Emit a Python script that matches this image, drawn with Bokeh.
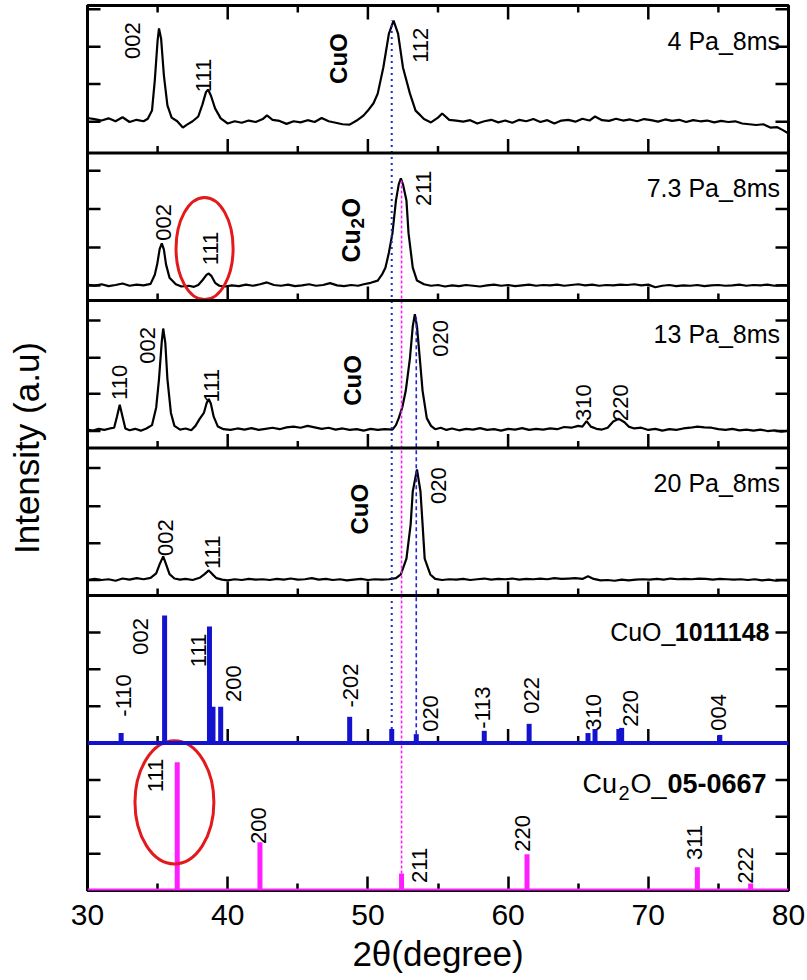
import math
from bokeh.plotting import figure
from bokeh.models import FixedTicker, Range1d, Span
from bokeh.core.properties import value
from bokeh.embed import file_html
from bokeh.resources import INLINE

FONT = "Liberation Sans"

# ------------------------------------------------------------------ data
# measured XRD traces (2theta in degree, intensity in a.u. within each panel)
x_4pa = [30.0, 30.5, 31.0, 31.5, 32.0, 32.5, 33.0, 33.5, 34.0, 34.3, 34.6, 34.8, 35.0, 35.1, 35.25,
         35.45, 35.7, 36.0, 36.4, 36.8, 37.1, 37.5, 37.9, 38.2, 38.45, 38.6, 38.8, 39.1, 39.5, 40.0,
         40.5, 41.0, 41.5, 42.0, 42.5, 42.8, 43.2, 43.7, 44.2, 44.7, 45.2, 45.7, 46.2, 46.7, 47.2,
         47.7, 48.2, 48.7, 49.2, 49.7, 50.0, 50.4, 50.7, 51.1, 51.5, 51.83, 52.15, 52.5, 53.0, 53.4,
         53.75, 54.0, 54.5, 55.0, 55.3, 55.8, 56.3, 56.8, 57.3, 57.8, 58.3, 58.8, 59.3, 59.8, 60.3,
         60.8, 61.3, 61.8, 62.3, 62.8, 63.3, 63.8, 64.3, 64.8, 65.3, 65.8, 66.2, 66.7, 67.2, 67.7,
         68.2, 68.7, 69.2, 69.7, 70.2, 70.7, 71.2, 71.7, 72.2, 72.7, 73.2, 73.7, 74.2, 74.7, 75.2,
         75.7, 76.2, 76.7, 77.2, 77.7, 78.2, 78.7, 79.2, 79.6, 80.0]
y_4pa = [0.95, 0.92, 0.88, 0.94, 0.86, 0.97, 0.84, 0.90, 0.86, 0.93, 1.15, 1.97, 3.05, 3.38, 3.10,
         2.10, 1.29, 0.96, 0.86, 0.69, 0.77, 0.86, 0.99, 1.32, 1.65, 1.72, 1.56, 1.21, 0.94, 0.80,
         0.86, 0.82, 0.88, 0.84, 0.92, 1.02, 0.90, 0.87, 0.79, 0.86, 0.83, 0.89, 0.84, 0.95, 0.86,
         0.82, 0.78, 0.77, 0.88, 1.02, 1.15, 1.35, 1.61, 2.32, 3.24, 3.59, 3.24, 2.32, 1.61, 1.15,
         1.02, 0.92, 0.83, 0.96, 1.07, 0.90, 0.88, 0.85, 0.89, 0.80, 0.86, 0.90, 0.83, 0.88, 0.82,
         0.90, 0.86, 0.92, 0.84, 0.89, 0.80, 0.88, 0.90, 0.85, 0.93, 0.88, 0.99, 0.89, 0.87, 0.93,
         0.88, 0.91, 0.86, 0.92, 0.89, 0.85, 0.91, 0.87, 0.90, 0.84, 0.89, 0.86, 0.88, 0.83, 0.87,
         0.84, 0.86, 0.80, 0.78, 0.76, 0.78, 0.69, 0.70, 0.62, 0.53]

x_7pa = [30.0, 30.5, 31.0, 31.5, 32.0, 32.5, 33.0, 33.5, 34.0, 34.5, 34.8, 34.97, 35.15, 35.3, 35.45,
         35.6, 35.85, 36.3, 36.7, 37.2, 37.6, 37.9, 38.2, 38.5, 38.65, 38.85, 39.1, 39.4, 39.8, 40.3,
         40.8, 41.3, 41.8, 42.3, 42.8, 43.3, 43.8, 44.3, 44.8, 45.3, 45.8, 46.3, 46.8, 47.3, 47.8,
         48.3, 48.8, 49.3, 49.7, 50.2, 50.7, 51.0, 51.25, 51.5, 51.75, 52.0, 52.2, 52.35, 52.5, 52.75,
         52.9, 53.2, 53.5, 54.0, 54.5, 55.0, 55.5, 56.0, 56.5, 57.0, 57.5, 58.0, 58.5, 59.0, 59.5,
         60.0, 60.5, 61.0, 61.5, 62.0, 62.5, 63.0, 63.5, 64.0, 64.5, 65.0, 65.5, 66.0, 66.5, 67.0,
         67.5, 68.0, 68.5, 69.0, 69.5, 70.0, 70.5, 71.0, 71.5, 72.0, 72.5, 73.0, 73.5, 74.0, 74.5,
         75.0, 75.5, 76.0, 76.5, 77.0, 77.5, 78.0, 78.5, 79.0, 79.5, 80.0]
y_7pa = [0.43, 0.40, 0.44, 0.39, 0.42, 0.46, 0.40, 0.43, 0.41, 0.45, 0.70, 0.98, 1.40, 1.55, 1.38,
         0.98, 0.62, 0.44, 0.38, 0.40, 0.37, 0.42, 0.55, 0.70, 0.73, 0.66, 0.48, 0.40, 0.38, 0.41,
         0.39, 0.43, 0.40, 0.44, 0.49, 0.42, 0.40, 0.43, 0.39, 0.41, 0.44, 0.40, 0.42, 0.47, 0.41,
         0.39, 0.42, 0.40, 0.44, 0.48, 0.54, 0.70, 0.89, 1.30, 1.82, 2.71, 3.15, 3.31, 3.15, 2.71,
         1.82, 0.89, 0.54, 0.44, 0.40, 0.42, 0.38, 0.41, 0.39, 0.42, 0.40, 0.38, 0.41, 0.43, 0.40,
         0.42, 0.39, 0.41, 0.43, 0.40, 0.42, 0.41, 0.43, 0.40, 0.42, 0.44, 0.41, 0.43, 0.40, 0.42,
         0.41, 0.43, 0.42, 0.44, 0.41, 0.43, 0.36, 0.40, 0.42, 0.39, 0.41, 0.40, 0.42, 0.39, 0.41,
         0.42, 0.40, 0.41, 0.43, 0.40, 0.42, 0.41, 0.43, 0.40, 0.42, 0.41]

x_13pa = [30.0, 30.4, 30.8, 31.2, 31.6, 31.9, 32.1, 32.3, 32.5, 32.7, 33.0, 33.4, 33.8, 34.2, 34.6,
          34.9, 35.1, 35.3, 35.4, 35.55, 35.7, 35.95, 36.2, 36.6, 37.0, 37.4, 37.7, 38.0, 38.3, 38.5,
          38.65, 38.8, 39.0, 39.3, 39.7, 40.2, 40.7, 41.2, 41.7, 42.2, 42.7, 43.2, 43.7, 44.2, 44.7,
          45.2, 45.7, 46.2, 46.7, 47.2, 47.7, 48.2, 48.7, 49.2, 49.7, 50.2, 50.7, 51.2, 51.75, 52.0,
          52.2, 52.45, 52.7, 53.0, 53.2, 53.35, 53.5, 53.7, 53.9, 54.2, 54.5, 54.8, 55.2, 55.6, 56.0,
          56.5, 57.0, 57.5, 58.0, 58.5, 59.0, 59.5, 60.0, 60.5, 61.0, 61.5, 62.0, 62.5, 63.0, 63.5,
          64.0, 64.5, 65.0, 65.3, 65.6, 65.9, 66.3, 66.7, 67.1, 67.5, 67.9, 68.3, 68.6, 69.0, 69.5,
          70.0, 70.5, 71.0, 71.5, 72.0, 72.5, 73.0, 73.5, 74.0, 74.5, 75.0, 75.5, 76.0, 76.5, 77.0,
          77.5, 78.0, 78.5, 79.0, 79.5, 80.0]
y_13pa = [0.50, 0.47, 0.52, 0.49, 0.53, 0.55, 0.85, 1.17, 0.85, 0.53, 0.48, 0.52, 0.47, 0.53, 0.62,
          1.10, 1.87, 2.90, 3.24, 2.85, 1.87, 0.95, 0.60, 0.50, 0.53, 0.48, 0.60, 0.79, 0.95, 1.22,
          1.33, 1.20, 0.85, 0.58, 0.51, 0.49, 0.53, 0.50, 0.54, 0.49, 0.52, 0.55, 0.51, 0.56, 0.58,
          0.55, 0.60, 0.56, 0.52, 0.55, 0.50, 0.53, 0.49, 0.51, 0.47, 0.52, 0.49, 0.51, 0.50, 0.62,
          0.81, 1.10, 1.55, 2.44, 3.30, 3.63, 3.30, 2.44, 1.55, 0.81, 0.60, 0.51, 0.55, 0.49, 0.53,
          0.48, 0.52, 0.50, 0.54, 0.49, 0.51, 0.47, 0.52, 0.50, 0.54, 0.49, 0.52, 0.50, 0.53, 0.51,
          0.57, 0.55, 0.60, 0.58, 0.73, 0.58, 0.52, 0.50, 0.55, 0.72, 0.79, 0.70, 0.58, 0.53, 0.55,
          0.49, 0.52, 0.47, 0.51, 0.49, 0.53, 0.55, 0.58, 0.56, 0.55, 0.51, 0.49, 0.52, 0.48, 0.50,
          0.47, 0.50, 0.46, 0.48, 0.44, 0.47]

x_20pa = [30.0, 30.5, 31.0, 31.5, 32.0, 32.5, 33.0, 33.5, 34.0, 34.5, 34.9, 35.15, 35.4, 35.6, 35.85,
          36.2, 36.6, 37.0, 37.5, 38.0, 38.35, 38.65, 38.9, 39.2, 39.6, 40.0, 40.5, 41.0, 41.5, 42.0,
          42.5, 43.0, 43.5, 44.0, 44.5, 45.0, 45.5, 46.0, 46.5, 47.0, 47.5, 48.0, 48.5, 49.0, 49.5,
          50.0, 50.5, 51.0, 51.5, 52.0, 52.35, 52.75, 53.05, 53.2, 53.5, 53.75, 53.9, 54.05, 54.45, 54.8,
          55.3, 55.8, 56.3, 56.8, 57.3, 57.8, 58.3, 58.8, 59.3, 59.8, 60.3, 60.8, 61.3, 61.8, 62.3,
          62.8, 63.3, 63.8, 64.3, 64.8, 65.3, 65.7, 66.1, 66.6, 67.1, 67.6, 68.1, 68.6, 69.1, 69.6,
          70.1, 70.6, 71.1, 71.6, 72.1, 72.6, 73.1, 73.6, 74.1, 74.6, 75.1, 75.6, 76.1, 76.6, 77.1,
          77.6, 78.1, 78.6, 79.1, 79.6, 80.0]
y_20pa = [0.41, 0.45, 0.42, 0.44, 0.40, 0.46, 0.43, 0.47, 0.44, 0.48, 0.60, 0.85, 1.06, 0.85, 0.58,
          0.46, 0.43, 0.45, 0.42, 0.48, 0.58, 0.68, 0.58, 0.47, 0.43, 0.41, 0.44, 0.42, 0.45, 0.43,
          0.44, 0.42, 0.45, 0.43, 0.46, 0.43, 0.44, 0.47, 0.43, 0.45, 0.42, 0.44, 0.41, 0.43, 0.45,
          0.42, 0.44, 0.43, 0.44, 0.47, 0.57, 1.00, 1.93, 2.82, 3.42, 2.82, 1.93, 1.00, 0.57, 0.45,
          0.42, 0.44, 0.43, 0.45, 0.42, 0.44, 0.46, 0.43, 0.45, 0.44, 0.46, 0.43, 0.45, 0.44, 0.46,
          0.44, 0.47, 0.45, 0.46, 0.47, 0.45, 0.52, 0.45, 0.41, 0.42, 0.40, 0.43, 0.41, 0.43, 0.44,
          0.43, 0.45, 0.43, 0.46, 0.44, 0.45, 0.44, 0.46, 0.45, 0.43, 0.45, 0.44, 0.43, 0.44, 0.42,
          0.44, 0.41, 0.43, 0.40, 0.42, 0.40]

sample_names = ["4 Pa_8ms", "7.3 Pa_8ms", "13 Pa_8ms", "20 Pa_8ms"]

# reference patterns (stick positions and heights)
cuo_ref_pos = [32.4, 35.5, 38.7, 38.95, 39.5, 48.7, 51.7, 53.45, 58.3, 61.5, 65.7, 66.2, 67.9, 68.1, 75.1]
cuo_ref_int = [0.27, 3.46, 3.16, 0.98, 0.98, 0.71, 0.38, 0.24, 0.33, 0.52, 0.27, 0.38, 0.38, 0.41, 0.22]
cu2o_ref_pos = [36.4, 42.3, 52.4, 61.35, 73.5, 77.3]
cu2o_ref_int = [3.48, 1.31, 0.46, 0.98, 0.63, 0.19]

# peak (hkl) annotations: text, 2theta, height within panel
hkl_4pa = (["002", "111", "112"], [33.2, 38.27, 53.75], [3.05, 2.10, 2.92])
hkl_7pa = (["002", "111", "211"], [35.42, 38.77, 53.97], [2.12, 1.41, 3.04])
hkl_13pa = (["110", "002", "111", "020", "310", "220"],
            [32.28, 34.28, 38.84, 55.18, 65.38, 68.02],
            [1.78, 2.78, 1.69, 2.97, 1.23, 1.23])
hkl_20pa = (["002", "111", "020"], [35.56, 38.92, 55.04], [1.57, 1.17, 2.98])
hkl_cuo = (["-110", "002", "111", "200", "-202", "020", "-113", "022", "310", "220", "004"],
           [32.57, 33.78, 37.9, 40.41, 48.76, 54.47, 58.17, 61.67, 66.09, 68.73, 75.01],
           [1.29, 2.89, 2.51, 1.61, 1.56, 0.80, 0.96, 1.29, 0.83, 0.94, 0.83])
hkl_cu2o = (["111", "200", "211", "220", "311", "222"],
            [34.85, 42.2, 53.68, 61.03, 73.3, 76.93],
            [3.12, 1.76, 0.68, 1.55, 1.30, 0.68])

# phase labels inside the measured panels (panel index, 2theta, height)
phase_cuo = ([0, 2, 3], [47.9, 48.93, 49.4], [2.56, 1.83, 2.34])

# left/right tick positions inside each panel (top panel first)
panel_ticks = [[0.85, 1.87, 2.88, 3.9], [0.41, 1.44, 2.48, 3.52], [0.46, 1.47, 2.45, 3.46],
               [0.42, 1.42, 2.42, 3.46], [1.0, 2.0, 3.0], [1.0, 2.0, 3.0]]

x_major = [30, 40, 50, 60, 70, 80]
x_minor = [35, 45, 55, 65, 75]

# ------------------------------------------------------------------ layout
W, H = 807, 980
L, R, T, B = 87, 19, 5, 90
NP = 6
PH = 4.0                                  # data height of one panel
FRAME_W, FRAME_H = W - L - R, H - T - B
PX_X = FRAME_W / 50.0                     # pixels per degree
PX_Y = FRAME_H / (NP * PH)                # pixels per intensity unit
MAJ, MIN, YT = 14, 7, 13                  # tick lengths in px

BLUE = "#1212cf"
MAG = "#ff1eff"
RED = "#e3191c"
BLACK = "#000000"


def off(i):
    return (NP - 1 - i) * PH


p = figure(width=W, height=H, x_range=Range1d(30, 80), y_range=Range1d(0, NP * PH),
           output_backend="svg", toolbar_location=None,
           min_border_left=L, min_border_right=R, min_border_top=T, min_border_bottom=B,
           background_fill_color="white", border_fill_color="white")
p.xgrid.visible = False
p.ygrid.visible = False
p.outline_line_color = BLACK
p.outline_line_width = 3
p.outline_line_alpha = 1.0

bottom = p.xaxis[0]
bottom.ticker = FixedTicker(ticks=x_major, minor_ticks=x_minor)
bottom.major_tick_in = MAJ
bottom.major_tick_out = 0
bottom.minor_tick_in = MIN
bottom.minor_tick_out = 0
bottom.major_tick_line_width = 2.5
bottom.minor_tick_line_width = 2.5
bottom.axis_line_width = 3
bottom.major_label_text_font = FONT
bottom.major_label_text_color = BLACK
bottom.major_label_text_font_size = "30px"
bottom.major_label_standoff = 14
bottom.axis_label = "2θ(degree)"
bottom.axis_label_text_font = FONT
bottom.axis_label_text_font_size = "35px"
bottom.axis_label_text_font_style = "normal"
bottom.axis_label_text_color = BLACK
bottom.axis_label_standoff = 6

left = p.yaxis[0]
left.ticker = FixedTicker(ticks=[], minor_ticks=[])
left.axis_line_width = 3
left.major_tick_out = 0
left.minor_tick_out = 0
left.axis_label = "Intensity (a.u)"
left.axis_label_text_font = FONT
left.axis_label_text_font_size = "35px"
left.axis_label_text_font_style = "normal"
left.axis_label_text_color = BLACK
left.axis_label_standoff = 42

# inward ticks on the left and right frame for every panel
ty = []
for i, tl in enumerate(panel_ticks):
    ty += [off(i) + t for t in tl]
p.segment(x0=[30] * len(ty), y0=ty, x1=[30 + YT / PX_X] * len(ty), y1=ty,
          line_color=BLACK, line_width=2.5)
p.segment(x0=[80] * len(ty), y0=ty, x1=[80 - YT / PX_X] * len(ty), y1=ty,
          line_color=BLACK, line_width=2.5)
# inward ticks on the top frame
top = NP * PH
p.segment(x0=x_major, y0=[top] * len(x_major), x1=x_major, y1=[top - MAJ / PX_Y] * len(x_major),
          line_color=BLACK, line_width=2.5)
p.segment(x0=x_minor, y0=[top] * len(x_minor), x1=x_minor, y1=[top - MIN / PX_Y] * len(x_minor),
          line_color=BLACK, line_width=2.5)

# panel separators and their upward ticks
for i in range(NP - 1):
    b = off(i)
    if i < NP - 2:
        p.add_layout(Span(location=b, dimension="width", line_color=BLACK, line_width=3))
    p.segment(x0=x_major, y0=[b] * len(x_major), x1=x_major,
              y1=[b + MAJ / PX_Y] * len(x_major), line_color=BLACK, line_width=2.5)
    p.segment(x0=x_minor, y0=[b] * len(x_minor), x1=x_minor,
              y1=[b + MIN / PX_Y] * len(x_minor), line_color=BLACK, line_width=2.5)

# ------------------------------------------------------------------ measured traces
traces = [(x_4pa, y_4pa), (x_7pa, y_7pa), (x_13pa, y_13pa), (x_20pa, y_20pa)]
for i, (xs, ys) in enumerate(traces):
    p.line(xs, [off(i) + v for v in ys], line_color=BLACK, line_width=2.2)

# ------------------------------------------------------------------ reference sticks
b5, b6 = off(4), off(5)
p.segment(x0=cuo_ref_pos, y0=[b5] * len(cuo_ref_pos), x1=cuo_ref_pos,
          y1=[b5 + v for v in cuo_ref_int], line_color=BLUE, line_width=5)
p.add_layout(Span(location=b5, dimension="width", line_color=BLUE, line_width=4))
p.segment(x0=cu2o_ref_pos, y0=[b6] * len(cu2o_ref_pos), x1=cu2o_ref_pos,
          y1=[b6 + v for v in cu2o_ref_int], line_color=MAG, line_width=5)
p.add_layout(Span(location=b6, dimension="width", line_color=MAG, line_width=4))

# ------------------------------------------------------------------ guide lines
k112 = cuo_ref_pos.index(51.7)
k020 = cuo_ref_pos.index(53.45)
k211 = cu2o_ref_pos.index(52.4)
p.segment(x0=[cuo_ref_pos[k112]], y0=[b5 + cuo_ref_int[k112]], x1=[cuo_ref_pos[k112]],
          y1=[off(0) + max(y_4pa)], line_color="#2323d8", line_width=2, line_dash="2 4")
p.segment(x0=[cuo_ref_pos[k020]], y0=[b5 + cuo_ref_int[k020]], x1=[cuo_ref_pos[k020]],
          y1=[off(2) + max(y_13pa)], line_color="#2323d8", line_width=1.6, line_dash="4 3")
p.segment(x0=[cu2o_ref_pos[k211]], y0=[b6 + cu2o_ref_int[k211]], x1=[cu2o_ref_pos[k211]],
          y1=[off(1) + max(y_7pa)], line_color=MAG, line_width=1.6, line_dash="3 2")

# ------------------------------------------------------------------ annotations
txt = dict(text_font=value(FONT), text_color=BLACK)
for i, (labels, xs, ys) in enumerate([hkl_4pa, hkl_7pa, hkl_13pa, hkl_20pa, hkl_cuo, hkl_cu2o]):
    p.text(x=xs, y=[off(i) + v for v in ys], text=labels, angle=math.pi / 2,
           text_font_size="22px", text_align="center", text_baseline="middle", **txt)

# sample names
p.text(x=[79.4] * 4, y=[off(i) + v for i, v in enumerate([3.05, 3.04, 3.1, 3.04])],
       text=sample_names, text_font_size="25px", text_align="right", text_baseline="middle", **txt)

# bold "CuO" phase labels
p.text(x=phase_cuo[1], y=[off(i) + v for i, v in zip(phase_cuo[0], phase_cuo[2])],
       text=["CuO"] * 3, angle=math.pi / 2, text_font_size="24px", text_font_style="bold",
       text_align="center", text_baseline="middle", **txt)

# bold rotated "Cu2O" (with subscript) in panel 2
cx, cy = 48.76, off(1) + 1.03
p.text(x=[cx], y=[cy], text=["Cu"], angle=math.pi / 2, text_font_size="25px",
       text_font_style="bold", text_align="left", text_baseline="alphabetic", **txt)
p.text(x=[cx + 7 / PX_X], y=[cy + 34 / PX_Y], text=["2"], angle=math.pi / 2, text_font_size="19px",
       text_font_style="bold", text_align="left", text_baseline="alphabetic", **txt)
p.text(x=[cx], y=[cy + 45 / PX_Y], text=["O"], angle=math.pi / 2, text_font_size="25px",
       text_font_style="bold", text_align="left", text_baseline="alphabetic", **txt)

# reference names
rx, ry = 78.64, off(4) + 3.0
p.text(x=[rx], y=[ry], text=["1011148"], text_font_size="25px", text_font_style="bold",
       text_align="right", text_baseline="middle", **txt)
p.text(x=[rx], y=[ry], x_offset=-94, text=["CuO_"], text_font_size="25px",
       text_align="right", text_baseline="middle", **txt)

sx, sy = 65.31, off(5) + 2.9
p.text(x=[sx], y=[sy], text=["Cu"], text_font_size="27px", text_align="left",
       text_baseline="alphabetic", **txt)
p.text(x=[sx + 36 / PX_X], y=[sy - 9 / PX_Y], text=["2"], text_font_size="20px", text_align="left",
       text_baseline="alphabetic", **txt)
p.text(x=[sx + 48 / PX_X], y=[sy], text=["O_"], text_font_size="27px", text_align="left",
       text_baseline="alphabetic", **txt)
p.text(x=[sx + 85 / PX_X], y=[sy], text=["05-0667"], text_font_size="27px", text_font_style="bold",
       text_align="left", text_baseline="alphabetic", **txt)

# red ellipses
p.ellipse(x=[38.35, 36.2], y=[off(1) + 1.41, off(5) + 2.39], width=[4.07, 5.63], height=[2.77, 3.34],
          fill_alpha=0, line_color=RED, line_width=3)

open("out.html", "w").write(file_html(p, INLINE))
